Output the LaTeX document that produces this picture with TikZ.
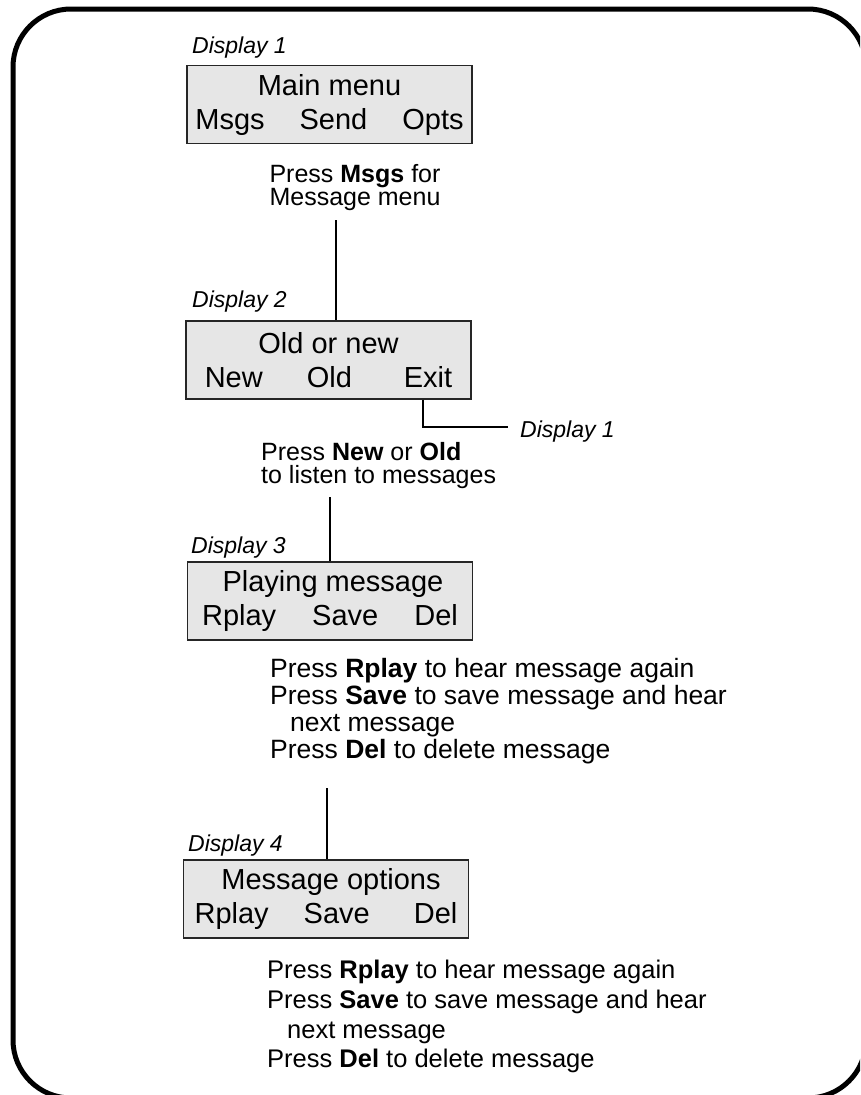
\documentclass[tikz,border=0pt]{standalone}
\usepackage{fontspec}
\setmainfont{Liberation Sans}
\usetikzlibrary{positioning}

\definecolor{lcdgray}{RGB}{230,230,230}

\tikzset{
	lcd/.style={draw=black!85, line width=1.3pt, fill=lcdgray, minimum width=285pt, minimum height=78pt,
		inner sep=0pt, align=center, font={\fontsize{29}{34}\selectfont}},
	lbl/.style={anchor=base west, inner sep=0pt, font={\fontsize{23}{27}\selectfont\itshape}},
	note/.style={inner sep=0pt, font={\fontsize{25}{#1}\selectfont}},
	note/.default=23,
	wire/.style={line width=1.2pt}
}

\begin{document}
\lineskiplimit=-20pt
\begin{tikzpicture}[x=1pt,y=-1pt]
	\useasboundingbox (0,0) rectangle (860,1095);
	\clip (0,0) rectangle (860,1095);
	\draw[line width=5pt, rounded corners=58pt] (13,9) rectangle (866,1098);
	
	% displays
	\node[lcd] (disp1) at (329.5,104.5) {Main menu\\Msgs\hspace{35pt}Send\hspace{35pt}Opts};
	\node[lcd] (disp2) at (328.5,360) {Old or new\\New\hspace{44pt}Old\hspace{52pt}Exit};
	\node[lcd] (disp3) at (330,601) {\hspace{6pt}Playing message\\Rplay\hspace{36pt}Save\hspace{36pt}Del};
	\node[lcd] (disp4) at (326,899) {\hspace{10pt}Message options\\Rplay\hspace{35pt}Save\hspace{44pt}Del};
	
	\node[lbl] (lbl1) at (192,53) {Display 1};
	\node[lbl] (lbl2) at (192,307) {Display 2};
	\node[lbl] (lbl3) at (191,553) {Display 3};
	\node[lbl] (lbl4) at (188,851) {Display 4};
	
	% what to press
	\node[note, anchor=north, align=center] (msgs) at (355,164) {Press \textbf{Msgs} for\\Message menu};
	\node[note, anchor=north west, align=left] (listen) at (261,442) {Press \textbf{New} or \textbf{Old}\\to listen to messages};
	\node[note=27, anchor=north west, align=left, font={\fontsize{26.5}{27}\selectfont}] (play) at (270,658)
		{Press \textbf{Rplay} to hear message again\\Press \textbf{Save} to save message and hear\\\hspace*{20pt}next message\\Press \textbf{Del} to delete message};
	\node[note=29.7, anchor=north west, align=left, font={\fontsize{25.5}{29.7}\selectfont}] (opts) at (267,960)
		{Press \textbf{Rplay} to hear message again\\Press \textbf{Save} to save message and hear\\\hspace*{20pt}next message\\Press \textbf{Del} to delete message};
	
	\node[lbl] (back1) at (520,437) {Display 1};
	
	\coordinate (m1) at (336,220);
	\coordinate (n1) at (330,497);
	\coordinate (p1) at (327,788);
	\draw[wire] (m1) -- (m1 |- disp2.north);
	\draw[wire] (n1) -- (n1 |- disp3.north);
	\draw[wire] (p1) -- (p1 |- disp4.north);
	\draw[wire] (disp2.south -| 423,0) |- ([xshift=-12pt,yshift=4pt]back1.west);
\end{tikzpicture}
\end{document}
